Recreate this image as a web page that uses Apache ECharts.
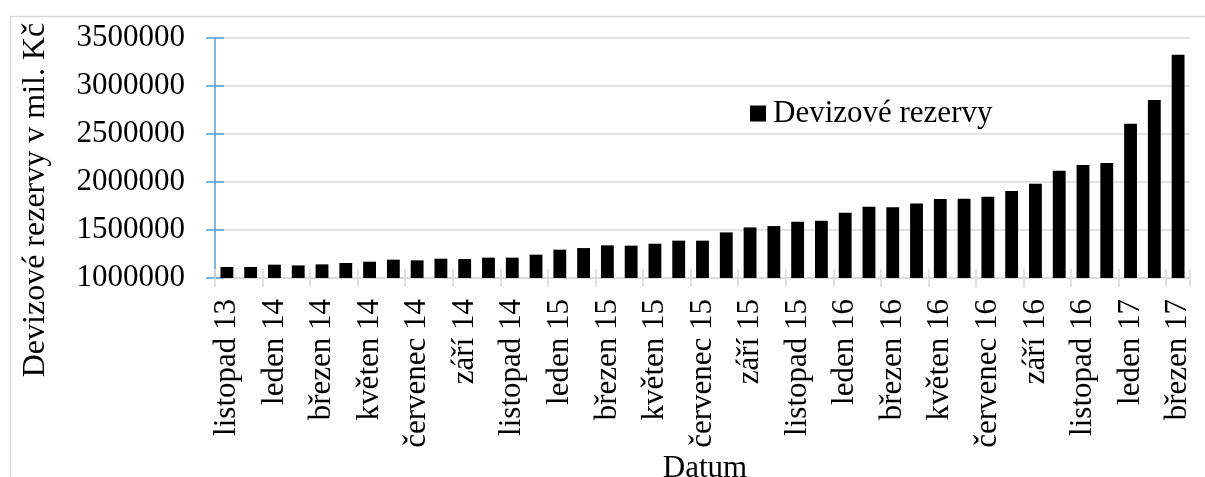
<!DOCTYPE html>
<html>
<head>
<meta charset="utf-8">
<script src="https://cdn.jsdelivr.net/npm/echarts@6/dist/echarts.min.js"></script>
<style>
  html, body { margin: 0; padding: 0; background: #ffffff; }
  #chart { width: 1205px; height: 477px; }
</style>
</head>
<body>
<div id="chart"></div>
<script>
// Monthly foreign-exchange reserves, Nov 2013 – Mar 2017 (mil. Kč)
const months = [
  'listopad 13', 'prosinec 13',
  'leden 14', 'únor 14', 'březen 14', 'duben 14', 'květen 14', 'červen 14',
  'červenec 14', 'srpen 14', 'září 14', 'říjen 14', 'listopad 14', 'prosinec 14',
  'leden 15', 'únor 15', 'březen 15', 'duben 15', 'květen 15', 'červen 15',
  'červenec 15', 'srpen 15', 'září 15', 'říjen 15', 'listopad 15', 'prosinec 15',
  'leden 16', 'únor 16', 'březen 16', 'duben 16', 'květen 16', 'červen 16',
  'červenec 16', 'srpen 16', 'září 16', 'říjen 16', 'listopad 16', 'prosinec 16',
  'leden 17', 'únor 17', 'březen 17'
];

const reserves = [
  1115000, 1115000,
  1139000, 1131000, 1142000, 1156000, 1170000, 1191000,
  1184000, 1201000, 1198000, 1212000, 1212000, 1243000,
  1295000, 1312000, 1340000, 1337000, 1357000, 1389000,
  1389000, 1475000, 1527000, 1541000, 1586000, 1596000,
  1680000, 1743000, 1736000, 1777000, 1823000, 1826000,
  1847000, 1906000, 1982000, 2118000, 2177000, 2198000,
  2607000, 2854000, 3326000
];

const seriesName = 'Devizové rezervy';
const yTitle = 'Devizové rezervy v mil. Kč';
const xTitle = 'Datum';

const yMin = 1000000;
const yMax = 3500000;
const yStep = 500000;

const FONT = '"Liberation Serif", "Times New Roman", serif';
const GRID_GRAY = '#d9d9d9';
const AXIS_BLUE = '#5b9bd5';

const chart = echarts.init(document.getElementById('chart'), null, { renderer: 'canvas' });

const option = {
  backgroundColor: '#ffffff',
  animation: false,
  grid: { left: 215, right: 15, top: 38, bottom: 199, containLabel: false },
  legend: {
    data: [seriesName],
    left: 745,
    top: 93,
    icon: 'rect',
    itemWidth: 16,
    itemHeight: 16,
    itemGap: 10,
    textStyle: { fontFamily: FONT, fontSize: 31, color: '#000000', padding: [0, 0, 0, 2] }
  },
  xAxis: [
    {
      type: 'category',
      data: months,
      position: 'bottom',
      axisLine: { show: true, lineStyle: { color: GRID_GRAY, width: 1.5 } },
      axisTick: { show: true, interval: 1, alignWithLabel: false, length: 9, inside: false,
                  lineStyle: { color: GRID_GRAY, width: 1.5 } },
      axisLabel: { interval: 1, rotate: 90, margin: 21, fontFamily: FONT, fontSize: 31, color: '#000000' },
      splitLine: { show: false }
    },
    {
      // second copy of the category axis: draws the inner half of the crossing ticks
      type: 'category',
      data: months,
      position: 'bottom',
      axisLine: { show: false },
      axisTick: { show: true, interval: 1, alignWithLabel: false, length: 9, inside: true,
                  lineStyle: { color: GRID_GRAY, width: 1.5 } },
      axisLabel: { show: false },
      splitLine: { show: false }
    }
  ],
  yAxis: [
    {
      type: 'value',
      min: yMin,
      max: yMax,
      interval: yStep,
      position: 'left',
      axisLine: { show: true, lineStyle: { color: AXIS_BLUE, width: 1.5 } },
      axisTick: { show: true, length: 9, inside: false, lineStyle: { color: AXIS_BLUE, width: 1.5 } },
      axisLabel: { margin: 30, fontFamily: FONT, fontSize: 31, color: '#000000',
                   formatter: v => String(v) },
      splitLine: { show: true, lineStyle: { color: GRID_GRAY, width: 1.5 } }
    },
    {
      // second copy of the value axis: inner half of the crossing ticks
      type: 'value',
      min: yMin,
      max: yMax,
      interval: yStep,
      position: 'left',
      axisLine: { show: false },
      axisTick: { show: true, length: 9, inside: true, lineStyle: { color: AXIS_BLUE, width: 1.5 } },
      axisLabel: { show: false },
      splitLine: { show: false }
    }
  ],
  series: [
    {
      name: seriesName,
      type: 'bar',
      xAxisIndex: 0,
      yAxisIndex: 0,
      data: reserves,
      barCategoryGap: '46%',
      itemStyle: { color: '#000000' }
    }
  ],
  graphic: [
    {
      type: 'rect',
      left: 8,
      top: 14,
      shape: { width: 1300, height: 600 },
      style: { fill: 'none', stroke: GRID_GRAY, lineWidth: 1.5 },
      silent: true,
      z: -10
    },
    {
      type: 'text',
      x: 36,
      y: 200,
      rotation: Math.PI / 2,
      style: {
        text: yTitle,
        font: '32px ' + FONT,
        fill: '#000000',
        textAlign: 'center',
        textVerticalAlign: 'middle'
      }
    },
    {
      type: 'text',
      x: 705,
      y: 469,
      style: {
        text: xTitle,
        font: '31px ' + FONT,
        fill: '#000000',
        textAlign: 'center',
        textVerticalAlign: 'middle'
      }
    }
  ]
};

chart.setOption(option);
</script>
</body>
</html>
